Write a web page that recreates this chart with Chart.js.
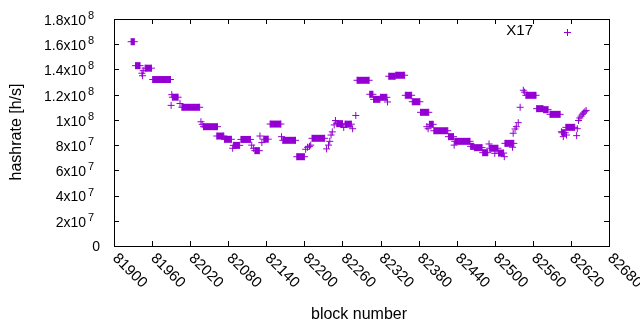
<!DOCTYPE html>
<html>
<head>
<meta charset="utf-8">
<script src="https://cdn.jsdelivr.net/npm/chart.js@4.4.0/dist/chart.umd.min.js"></script>
<style>
  html, body { margin: 0; padding: 0; background: #fff; }
  #wrap { width: 640px; height: 330px; }
</style>
</head>
<body>
<div id="wrap"><canvas id="chart" width="640" height="330"></canvas></div>
<script>
// --- data (block number, hashrate in h/s) ---
// consecutive points with the same hashrate form a plateau
const blocks = [
  81927, 81932, 81934, 81941, 81944, 81945, 81946, 81949, 81959, 81961, 81989,
  81990, 81991, 81992, 82001, 82004, 82007, 82035, 82037, 82039, 82041, 82063,
  82062, 82073, 82074, 82085, 82087, 82088, 82098, 82100, 82115, 82117, 82120,
  82122, 82129, 82130, 82133, 82136, 82143, 82146, 82163, 82164, 82166, 82186,
  82188, 82200, 82202, 82205, 82208, 82210, 82212, 82232, 82235, 82238, 82240,
  82242, 82244, 82247, 82249, 82251, 82260, 82262, 82264, 82274, 82276, 82281,
  82283, 82302, 82303, 82308, 82309, 82319, 82320, 82330, 82331, 82333, 82343,
  82344, 82358, 82359, 82369, 82370, 82382, 82383, 82396, 82393, 82395, 82397,
  82403, 82404, 82426, 82427, 82435, 82437, 82461, 82436, 82462, 82467, 82468,
  82480, 82481, 82489, 82491, 82492, 82505, 82500, 82506, 82514, 82515, 82516,
  82530, 82528, 82529, 82532, 82534, 82537, 82540, 82545, 82547, 82549, 82565,
  82566, 82576, 82577, 82584, 82587, 82603, 82605, 82606, 82611, 82608, 82613,
  82612, 82626, 82629, 82630, 82632, 82634, 82636, 82638, 82640, 82642, 82644
];
const hashrate = [
  162e6, 162e6, 143e6, 143e6, 137e6, 135e6, 139e6, 141e6, 141e6, 132e6, 132e6,
  111.5e6, 120e6, 118e6, 118e6, 113e6, 110e6, 110e6, 98.5e6, 96.5e6, 94.6e6, 94.6e6,
  87.2e6, 87.2e6, 84.6e6, 84.6e6, 77.5e6, 79.8e6, 79.8e6, 84.5e6, 84.5e6, 80e6, 77.5e6,
  75.6e6, 75.6e6, 87.2e6, 82e6, 84.7e6, 84.7e6, 96.7e6, 96.7e6, 86.7e6, 83.8e6, 83.8e6,
  70.8e6, 70.8e6, 76.7e6, 78.3e6, 79e6, 80e6, 85.4e6, 85.4e6, 77e6, 80e6, 83e6,
  88e6, 90.5e6, 96e6, 99.5e6, 97e6, 97e6, 94e6, 96.6e6, 96.6e6, 93e6, 103.5e6,
  131.4e6, 131.4e6, 120.3e6, 120.3e6, 116.3e6, 116.3e6, 117.9e6, 117.9e6, 114.2e6, 134.6e6, 134.6e6,
  135.4e6, 135.4e6, 119.5e6, 119.5e6, 114.4e6, 114.4e6, 106e6, 106e6, 94.6e6, 93e6, 96.5e6,
  96.5e6, 91.4e6, 91.4e6, 86.7e6, 86.7e6, 83e6, 83e6, 80e6, 79e6, 79e6, 78e6,
  78e6, 74e6, 74e6, 80.9e6, 77.5e6, 77.5e6, 73.5e6, 73.7e6, 73.7e6, 70.8e6, 81.4e6,
  81.4e6, 78.3e6, 89.4e6, 92.8e6, 94.6e6, 97.8e6, 110e6, 123.5e6, 122e6, 119.5e6, 119.5e6,
  108.9e6, 108.9e6, 108.1e6, 108.1e6, 104.4e6, 104.4e6, 90.6e6, 89.8e6, 89.8e6, 86.7e6, 88e6,
  94.1e6, 94.1e6, 87.5e6, 93e6, 99.5e6, 101.5e6, 103e6, 104.5e6, 105.5e6, 106.5e6, 107.5e6
];
const xTickValues = [81900, 81960, 82020, 82080, 82140, 82200, 82260, 82320, 82380, 82440, 82500, 82560, 82620, 82680];
const yTickValues = [0, 2e7, 4e7, 6e7, 8e7, 1e8, 1.2e8, 1.4e8, 1.6e8, 1.8e8];
const seriesName = 'X17';
const xTitle = 'block number';
const yTitle = 'hashrate [h/s]';

const purple = 'rgb(148, 0, 211)';
const fontName = '"Liberation Sans", Arial, sans-serif';

// gnuplot style frame, mirrored inward ticks, enhanced-text labels and key
const gnuplotFrame = {
  id: 'gnuplotFrame',
  afterDraw(chart) {
    const { ctx, chartArea: a, scales: { x, y } } = chart;
    ctx.save();
    ctx.strokeStyle = '#000';
    ctx.lineWidth = 1;
    ctx.beginPath();
    x.ticks.forEach(t => {
      const px = Math.round(x.getPixelForValue(t.value)) + 0.5;
      ctx.moveTo(px, a.bottom); ctx.lineTo(px, a.bottom - 5);
      ctx.moveTo(px, a.top); ctx.lineTo(px, a.top + 5);
    });
    y.ticks.forEach(t => {
      const py = Math.round(y.getPixelForValue(t.value)) + 0.5;
      ctx.moveTo(a.left, py); ctx.lineTo(a.left + 5, py);
      ctx.moveTo(a.right, py); ctx.lineTo(a.right - 5, py);
    });
    ctx.stroke();
    ctx.strokeRect(Math.round(a.left) + 0.5, Math.round(a.top) + 0.5,
      Math.round(a.right - a.left), Math.round(a.bottom - a.top));

    ctx.fillStyle = '#000';
    // y tick labels like 1.8x10^8
    y.ticks.forEach(t => {
      const py = y.getPixelForValue(t.value);
      ctx.font = '14px ' + fontName;
      ctx.textAlign = 'right';
      ctx.textBaseline = 'middle';
      if (t.value === 0) {
        ctx.fillText('0', 100, py + 1);
        return;
      }
      const e = Math.floor(Math.log10(t.value) + 1e-9);
      const m = parseFloat((t.value / Math.pow(10, e)).toFixed(2));
      ctx.fillText(m + 'x10', 86, py + 2);
      ctx.font = '11px ' + fontName;
      ctx.textAlign = 'left';
      ctx.fillText(String(e), 88, py - 3);
    });
    // x tick labels rotated by -45 (down-right)
    ctx.font = '15px ' + fontName;
    ctx.textAlign = 'left';
    ctx.textBaseline = 'middle';
    x.ticks.forEach(t => {
      const px = x.getPixelForValue(t.value);
      ctx.save();
      ctx.translate(px + 1, a.bottom + 10);
      ctx.rotate(Math.PI / 4);
      ctx.fillText(String(t.value), 0, 0);
      ctx.restore();
    });
    // axis titles
    ctx.font = '16px ' + fontName;
    ctx.textAlign = 'center';
    ctx.fillText(xTitle, 359, 315);
    ctx.save();
    ctx.translate(17, 132);
    ctx.rotate(-Math.PI / 2);
    ctx.fillText(yTitle, 0, 0);
    ctx.restore();
    // key
    ctx.font = '15px ' + fontName;
    ctx.textAlign = 'right';
    ctx.fillText(seriesName, 533, 31);
    ctx.strokeStyle = purple;
    ctx.beginPath();
    ctx.moveTo(564, 32.5); ctx.lineTo(571, 32.5);
    ctx.moveTo(567.5, 29); ctx.lineTo(567.5, 36);
    ctx.stroke();
    ctx.restore();
  }
};

const points = blocks.map((b, i) => ({ x: b, y: hashrate[i] }));

new Chart(document.getElementById('chart'), {
  type: 'scatter',
  data: {
    datasets: [{
      label: seriesName,
      data: points,
      showLine: true,
      borderWidth: 7,
      borderCapStyle: 'butt',
      borderColor: purple,
      segment: {
        // only plateaus (same hashrate on both ends) are filled
        borderColor: ctx => ctx.p0.parsed.y === ctx.p1.parsed.y ? purple : 'transparent'
      },
      pointStyle: 'cross',
      pointRadius: 3.5,
      pointHoverRadius: 3.5,
      pointBorderWidth: 1,
      pointBorderColor: purple,
      pointBackgroundColor: purple
    }]
  },
  options: {
    responsive: false,
    animation: false,
    events: [],
    layout: { padding: { left: 0, right: 31, top: 19, bottom: 0 } },
    plugins: { legend: { display: false }, tooltip: { enabled: false } },
    scales: {
      x: {
        type: 'linear',
        min: 81900,
        max: 82680,
        afterBuildTicks: scale => { scale.ticks = xTickValues.map(v => ({ value: v })); },
        afterFit: scale => { scale.height = 84; },
        ticks: { display: false },
        grid: { display: false },
        border: { display: false }
      },
      y: {
        min: 0,
        max: 1.8e8,
        afterBuildTicks: scale => { scale.ticks = yTickValues.map(v => ({ value: v })); },
        afterFit: scale => { scale.width = 114; },
        ticks: { display: false },
        grid: { display: false },
        border: { display: false }
      }
    }
  },
  plugins: [gnuplotFrame]
});
</script>
</body>
</html>
